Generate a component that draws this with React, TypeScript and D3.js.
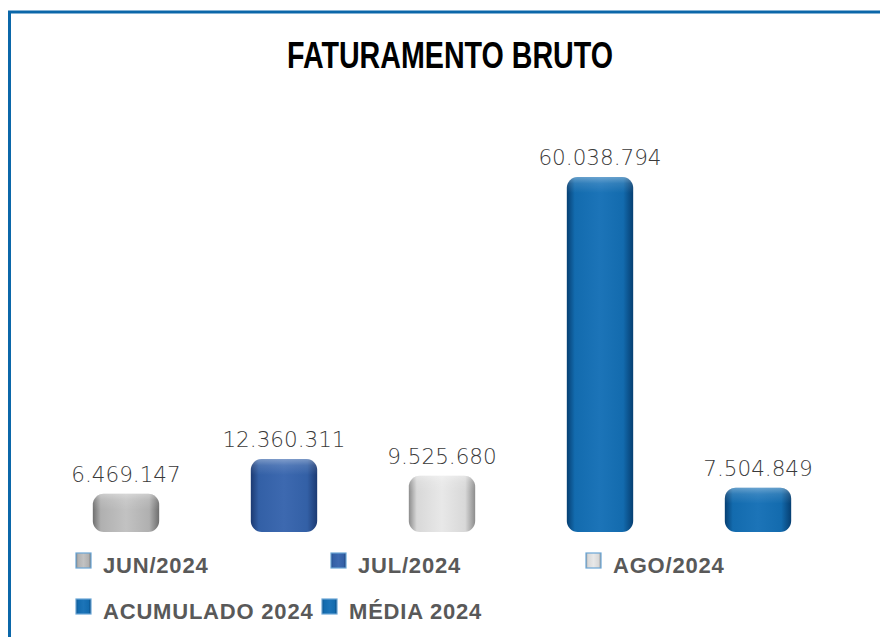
import React from "react";
import * as d3 from "d3";

const categories = ["JUN/2024", "JUL/2024", "AGO/2024", "ACUMULADO 2024", "MÉDIA 2024"];
const values = [6469147, 12360311, 9525680, 60038794, 7504849];
const labels = ["6.469.147", "12.360.311", "9.525.680", "60.038.794", "7.504.849"];

const palettes = [
  { edge: "#6e6e6e", mid: "#b0b0b0", hi: "#c2c2c2" },
  { edge: "#1c3a72", mid: "#3360a6", hi: "#3d69b0" },
  { edge: "#8c8c8c", mid: "#d8d8d8", hi: "#e8e8e8" },
  { edge: "#063f72", mid: "#136bae", hi: "#1c74b8" },
  { edge: "#063f72", mid: "#136bae", hi: "#1c74b8" },
];

const W = 880;
const H = 637;

export default function App() {
  const x = d3.scaleBand<string>().domain(categories).range([47, 837]).paddingInner(0.58).paddingOuter(0.29);
  const y = d3.scaleLinear().domain([0, d3.max(values) as number]).range([532, 177]);
  const bw = x.bandwidth();

  const legendPos = [
    { x: 76, y: 553 },
    { x: 331, y: 553 },
    { x: 586, y: 553 },
    { x: 76, y: 599 },
    { x: 322, y: 599 },
  ];

  return (
    <svg width={W} height={H} style={{ position: "absolute", left: 0, top: 0, background: "#fff" }}>
      <defs>
        {palettes.map((p, i) => (
          <linearGradient key={i} id={`g${i}`} x1="0" x2="1" y1="0" y2="0">
            <stop offset="0" stopColor={p.edge} />
            <stop offset="0.12" stopColor={p.mid} />
            <stop offset="0.5" stopColor={p.hi} />
            <stop offset="0.85" stopColor={p.mid} />
            <stop offset="1" stopColor={p.edge} />
          </linearGradient>
        ))}
        {categories.map((c, i) => {
          const yt = y(values[i]);
          return (
            <linearGradient key={"t" + i} id={`t${i}`} gradientUnits="userSpaceOnUse" x1="0" x2="0" y1={yt} y2={yt + 16}>
              <stop offset="0" stopColor="#ffffff" stopOpacity="0.35" />
              <stop offset="0.4" stopColor="#ffffff" stopOpacity="0.12" />
              <stop offset="1" stopColor="#ffffff" stopOpacity="0" />
            </linearGradient>
          );
        })}
      </defs>
      <rect x={0} y={0} width={W} height={H} fill="#fff" />
      <line x1={8} x2={W} y1={12} y2={12} stroke="#0b67a9" strokeWidth={3} />
      <line x1={9.5} x2={9.5} y1={11} y2={H} stroke="#0b67a9" strokeWidth={3} />
      <text
        x={450}
        y={68}
        textAnchor="middle"
        fontFamily="Liberation Sans, Arial, sans-serif"
        fontWeight="bold"
        fontSize={36}
        fill="#000"
        textLength={326}
        lengthAdjust="spacingAndGlyphs"
      >
        FATURAMENTO BRUTO
      </text>
      {categories.map((c, i) => {
        const x0 = x(c) as number;
        const yt = y(values[i]);
        const h = y(0) - yt;
        return (
          <g key={c}>
            <rect x={x0} y={yt} width={bw} height={h} rx={11} ry={11} fill={`url(#g${i})`} />
            <rect x={x0} y={yt} width={bw} height={h} rx={11} ry={11} fill={`url(#t${i})`} />
            <text
              x={x0 + bw / 2}
              y={yt - 12}
              textAnchor="middle"
              fontFamily="DejaVu Sans, sans-serif"
              fontWeight={300}
              fontSize={21.5}
              fill="#3a3a3a"
            >
              {labels[i]}
            </text>
          </g>
        );
      })}
      {categories.map((c, i) => {
        const p = legendPos[i];
        return (
          <g key={"l" + c}>
            <rect x={p.x} y={p.y} width={15} height={15} fill={`url(#g${i})`} stroke="#6aa6d6" strokeWidth={1.2} />
            <text
              x={p.x + 27}
              y={p.y + 20}
              fontFamily="Liberation Sans, Arial, sans-serif"
              fontWeight="bold"
              fontSize={22}
              letterSpacing={0.8}
              fill="#595959"
            >
              {c}
            </text>
          </g>
        );
      })}
    </svg>
  );
}
